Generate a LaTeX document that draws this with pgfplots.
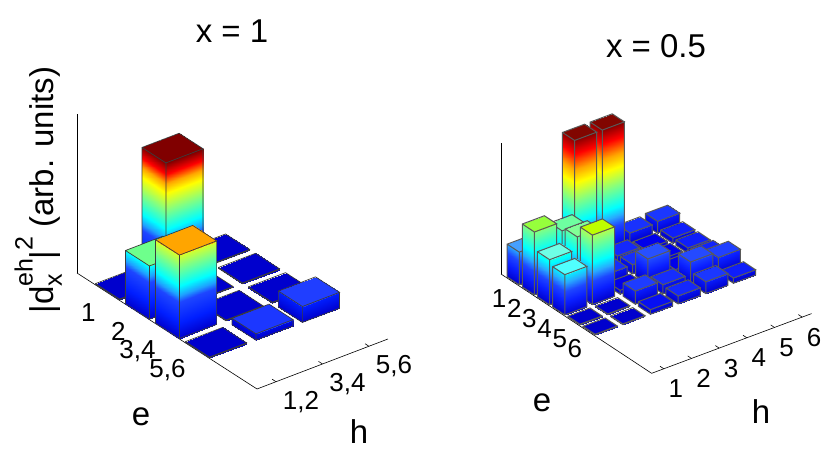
\documentclass[border=0pt]{standalone}
\usepackage{fontspec}
\setmainfont{Liberation Sans}
\usepackage{pgfplots}
\pgfplotsset{compat=1.18}
\usepgfplotslibrary{patchplots}

\definecolor{edgegray}{RGB}{60,60,60}
\newcommand{\fs}[1]{\fontsize{#1}{#1}\selectfont}

% one bar: e, h, height (bar half width 0.4); visible faces only
\newcommand{\onebar}[3]{%
  \pgfmathsetmacro\ea{#1-0.4}\pgfmathsetmacro\eb{#1+0.4}%
  \pgfmathsetmacro\ha{#2-0.4}\pgfmathsetmacro\hb{#2+0.4}%
  \edef\tmpbar{%
    \noexpand\addplot3[barface, colormap name=\sidemap] coordinates {
      (\ea,\ha,0) (\eb,\ha,0) (\eb,\ha,#3) (\ea,\ha,#3)
      (\eb,\ha,0) (\eb,\hb,0) (\eb,\hb,#3) (\eb,\ha,#3)
    };
    \noexpand\addplot3[barface, colormap name=\roofmap] coordinates {
      (\ea,\ha,#3) (\eb,\ha,#3) (\eb,\hb,#3) (\ea,\hb,#3)
    };
    \noexpand\addplot3[baredge] coordinates {
      (\ea,\ha,#3) (\eb,\ha,#3) (\eb,\hb,#3) (\ea,\hb,#3) (\ea,\ha,#3)
      (\ea,\ha,0) (\eb,\ha,0) (\eb,\hb,0) (\eb,\hb,#3)
      (\eb,\ha,#3) (\eb,\ha,0)
    };}\tmpbar
}
% h axis sits at the front edge of the floor
\newcommand{\haxis}[3]{\addplot3[axisline] coordinates {(#1,#2,0) (#1,#3,0)};}
\newcommand{\htick}[5]{%
  \addplot3[axisline] coordinates {(#1,#3,0) (#2,#3,0)};
  \node[font=\fs{26}, xshift=#4, yshift=-20pt] at (axis cs:#1,#3,0) {#5};
}

% colormap positions are (z + offset)*1000, offset 0.062 left and 0.079 right
\pgfplotsset{
  colormap={sidesL}{
    rgb255(0pt)=(0,0,205); rgb255(62pt)=(0,0,205); rgb255(162pt)=(0,30,255);
    rgb255(292pt)=(30,70,255); rgb255(332pt)=(30,160,255); rgb255(392pt)=(0,255,255);
    rgb255(512pt)=(130,255,130); rgb255(622pt)=(255,255,0); rgb255(682pt)=(255,165,0);
    rgb255(742pt)=(255,0,0); rgb255(812pt)=(128,0,0)},
  colormap={sidesR}{
    rgb255(0pt)=(0,0,205); rgb255(79pt)=(0,0,205); rgb255(179pt)=(10,30,255);
    rgb255(259pt)=(30,70,255); rgb255(329pt)=(40,170,255); rgb255(399pt)=(0,255,255);
    rgb255(559pt)=(130,255,130); rgb255(699pt)=(255,255,0); rgb255(799pt)=(255,165,0);
    rgb255(919pt)=(255,0,0); rgb255(1034pt)=(128,0,0)},
  colormap={roofL}{
    rgb255(0pt)=(0,0,205); rgb255(70pt)=(0,0,205); rgb255(102pt)=(28,55,255);
    rgb255(162pt)=(32,62,255); rgb255(397pt)=(110,255,140); rgb255(587pt)=(255,165,0);
    rgb255(812pt)=(128,0,0)},
  colormap={roofR}{
    rgb255(0pt)=(0,0,205); rgb255(84pt)=(0,0,205); rgb255(109pt)=(0,0,235);
    rgb255(119pt)=(15,30,250); rgb255(179pt)=(30,60,255); rgb255(269pt)=(40,80,255);
    rgb255(329pt)=(70,160,255); rgb255(386pt)=(80,255,255); rgb255(424pt)=(110,255,230);
    rgb255(489pt)=(110,255,160); rgb255(519pt)=(130,255,150); rgb255(559pt)=(150,255,60);
    rgb255(609pt)=(190,255,0); rgb255(1034pt)=(128,0,0)},
  colormap/jet,
  barface/.style={patch, patch type=rectangle, shader=interp, point meta=z},
  baredge/.style={no markers, edgegray, line width=0.7pt, forget plot},
  axisline/.style={no markers, black, line width=0.6pt, forget plot},
  barchart/.style={
    colormap name=jet, clip=false,
    axis x line*=left, axis y line=none, axis z line*=left,
    axis line style={black, line width=0.6pt, -},
    zmin=0, zmax=1, ztick=\empty, ytick=\empty,
    tick style={black, line width=0.5pt},
    major tick length=4pt, tick align=inside,
    xlabel={}, ylabel={},
  },
}

\begin{document}
\begin{tikzpicture}[x=1pt,y=1pt]
\path[use as bounding box] (0,0) rectangle (830,-455);

%% left panel, x = 1
\begin{axis}[barchart,
  at={(77pt,-273pt)}, anchor=origin,
  x={(30pt,-19.33pt)}, y={(46.45pt,17.73pt)}, z={(0pt,159pt)},
  xmin=0, xmax=6, ymin=0.59, ymax=3.41,
  point meta min=-0.062, point meta max=0.75,
  xtick={1,2,3,4}, xticklabels={1,2,{3,4},{5,6}},
  xticklabel style={font=\fs{26}, anchor=east, xshift=-8pt, yshift=-20pt},
]
\def\sidemap{sidesL}\def\roofmap{roofL}
\onebar{1}{3}{0.005}
\onebar{1}{2}{0.75}
\onebar{1}{1}{0.005}
\onebar{2}{3}{0.005}
\onebar{2}{2}{0.005}
\onebar{2}{1}{0.335}
\onebar{3}{3}{0.005}
\onebar{3}{2}{0.005}
\onebar{3}{1}{0.525}
\onebar{4}{3}{0.1}
\onebar{4}{2}{0.04}
\onebar{4}{1}{0.005}
\haxis{6}{0.59}{3.41}
\htick{6}{5.87}{1}{25pt}{1,2}
\htick{6}{5.87}{2}{25pt}{3,4}
\htick{6}{5.87}{3}{25pt}{5,6}
\end{axis}

%% right panel, x = 0.5
\begin{axis}[barchart,
  baredge/.append style={black!65, line width=1pt},
  at={(501pt,-274pt)}, anchor=origin,
  x={(15.17pt,-10pt)}, y={(27.67pt,10.33pt)}, z={(0pt,131pt)},
  xmin=0.27, xmax=10.2, ymin=0.56, ymax=6.34,
  point meta min=-0.079, point meta max=0.955,
  xtick={1,...,6}, xticklabels={1,2,3,4,5,6},
  xticklabel style={font=\fs{26}, anchor=center, xshift=-13pt, yshift=-17pt},
]
\def\sidemap{sidesR}\def\roofmap{roofR}
\onebar{1}{6}{0.09}
\onebar{1}{5}{0.08}
\onebar{1}{4}{0.945}
\onebar{1}{3}{0.945}
\onebar{1}{2}{0.2}
\onebar{1}{1}{0.25}
\onebar{2}{6}{0.04}
\onebar{2}{5}{0.03}
\onebar{2}{4}{0.06}
\onebar{2}{3}{0.1}
\onebar{2}{2}{0.41}
\onebar{2}{1}{0.48}
\onebar{3}{6}{0.04}
\onebar{3}{5}{0.03}
\onebar{3}{4}{0.07}
\onebar{3}{3}{0.07}
\onebar{3}{2}{0.44}
\onebar{3}{1}{0.345}
\onebar{4}{6}{0.05}
\onebar{4}{5}{0.03}
\onebar{4}{4}{0.19}
\onebar{4}{3}{0.03}
\onebar{4}{2}{0.53}
\onebar{4}{1}{0.307}
\onebar{5}{6}{0.12}
\onebar{5}{5}{0.165}
\onebar{5}{4}{0.07}
\onebar{5}{3}{0.1}
\onebar{5}{2}{0.005}
\onebar{5}{1}{0.005}
\onebar{6}{6}{0.04}
\onebar{6}{5}{0.09}
\onebar{6}{4}{0.06}
\onebar{6}{3}{0.035}
\onebar{6}{2}{0.005}
\onebar{6}{1}{0.005}
\haxis{10.2}{0.56}{6.34}
\htick{10.2}{9.95}{1}{12pt}{1}
\htick{10.2}{9.95}{2}{12pt}{2}
\htick{10.2}{9.95}{3}{12pt}{3}
\htick{10.2}{9.95}{4}{12pt}{4}
\htick{10.2}{9.95}{5}{12pt}{5}
\htick{10.2}{9.95}{6}{12pt}{6}
\end{axis}

%% titles and axis labels
\node[font=\fs{33}] at (232,-31) {x = 1};
\node[font=\fs{33}] at (656,-46) {x = 0.5};
\node[font=\fs{33}] at (141,-417) {e};
\node[font=\fs{33}] at (359,-432) {h};
\node[font=\fs{33}] at (542,-403) {e};
\node[font=\fs{33}] at (761,-412) {h};
\node[font=\fs{33}, rotate=90, anchor=base west] at (53,-317)
  {|d\rlap{\raisebox{0.62em}{\fs{25}eh}}\raisebox{-0.27em}{\fs{25}x}\hspace{0.45em}|\raisebox{0.62em}{\fs{25}2} (arb. units)};
\end{tikzpicture}
\end{document}
